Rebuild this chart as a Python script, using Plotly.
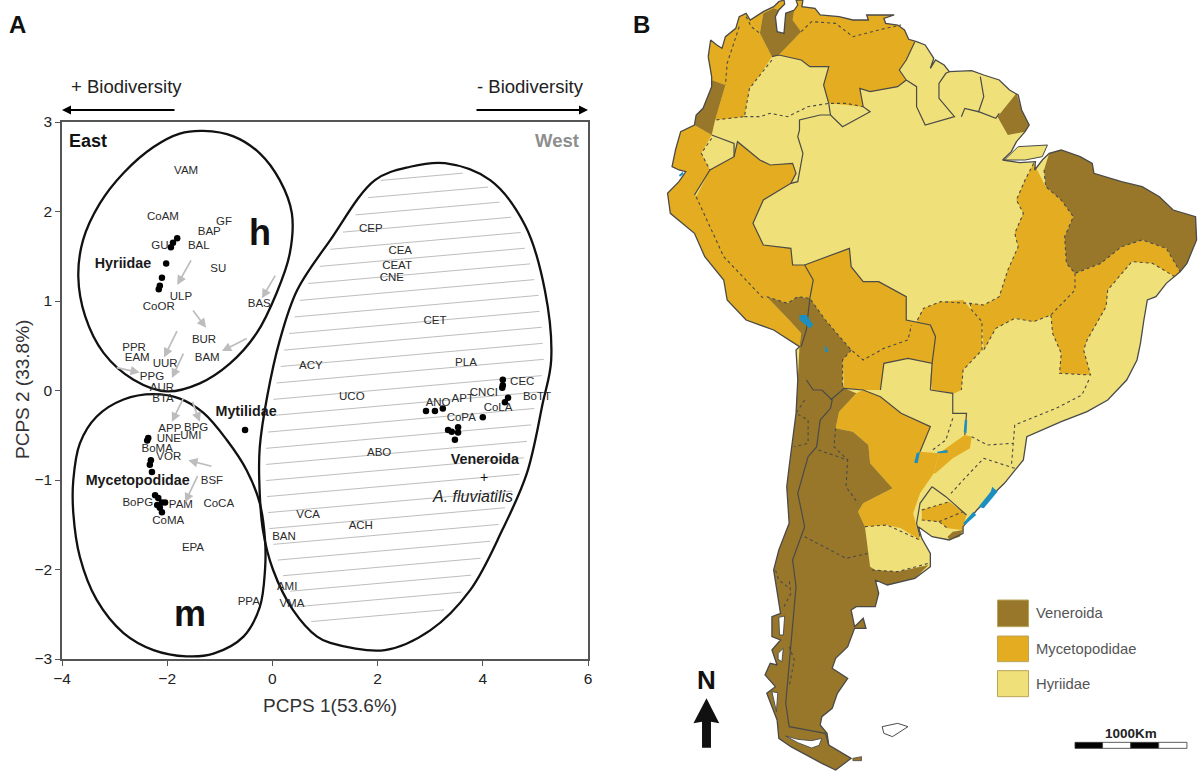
import plotly.graph_objects as go

# ---------- Panel A data (PCPS 1, PCPS 2) ----------
hyr_x = [-1.81,-1.89,-1.93,-2.02,-2.10,-2.14,-2.16]
hyr_y = [1.70,1.65,1.60,1.42,1.26,1.17,1.13]
myc_x = [-2.36,-2.38,-2.31,-2.33,-2.29,-2.23,-2.17,-2.10,-2.04,-2.19,-2.14,-2.10]
myc_y = [-0.53,-0.56,-0.78,-0.83,-0.91,-1.17,-1.20,-1.25,-1.25,-1.28,-1.31,-1.36]
myt_x = [-0.52]
myt_y = [-0.44]
ven_x = [4.38,4.38,4.37,4.48,4.42,4.00,2.92,3.09,3.24,3.34,3.41,3.53,3.53,3.47]
ven_y = [0.12,0.06,0.03,-0.08,-0.13,-0.30,-0.23,-0.23,-0.20,-0.44,-0.46,-0.41,-0.47,-0.55]

lab_names = ["VAM","CoAM","GF","BAP","GU","BAL","SU","ULP","CoOR","BAS","BUR","PPR","EAM","BAM","UUR","PPG","AUR","BTA",
             "APP","BPG","UNE","UMI","BoMA","VOR","BSF","BoPG","PAM","CoCA","CoMA","EPA","PPA",
             "VCA","BAN","AMI","VMA","ACY","CEP","CEA","CEAT","CNE","CET","PLA","UCO","CEC","BoTT","CNCI","APT","ANO","CoLA","CoPA","ABO","ACH"]
lab_x = [-1.64,-2.08,-0.92,-1.20,-2.14,-1.40,-1.03,-1.74,-2.16,-0.25,-1.30,-2.63,-2.57,-1.24,-2.04,-2.29,-2.10,-2.08,
         -1.95,-1.45,-1.97,-1.55,-2.19,-1.97,-1.15,-2.56,-1.74,-1.02,-1.98,-1.51,-0.45,
         0.68,0.22,0.28,0.37,0.73,1.87,2.43,2.37,2.27,3.09,3.68,1.51,4.75,5.03,4.02,3.62,3.15,4.29,3.59,2.03,1.68]
lab_y = [2.45,1.94,1.88,1.77,1.61,1.61,1.36,1.04,0.93,0.96,0.56,0.47,0.36,0.36,0.30,0.15,0.03,-0.10,
         -0.43,-0.42,-0.54,-0.51,-0.65,-0.74,-1.01,-1.26,-1.28,-1.27,-1.46,-1.76,-2.36,
         -1.39,-1.64,-2.20,-2.39,0.27,1.80,1.56,1.39,1.26,0.78,0.31,-0.07,0.09,-0.07,-0.03,-0.10,-0.14,-0.20,-0.31,-0.70,-1.51]

bold_names = ["Hyriidae","Mytilidae","Mycetopodidae","Veneroida"]
bold_x = [-2.84,-0.50,-2.56,4.04]
bold_y = [1.41,-0.24,-1.02,-0.78]

h_x = [-1.31,-0.74,-0.24,0.14,0.37,0.33,0.08,-0.30,-0.81,-1.38,-2.01,-2.64,-3.21,-3.56,-3.69,-3.60,-3.28,-2.83,-2.26,-1.76,-1.31]
h_y = [2.90,2.84,2.65,2.35,1.98,1.53,1.09,0.64,0.30,0.08,-0.01,0.12,0.42,0.83,1.27,1.68,2.09,2.43,2.72,2.87,2.90]
m_x = [-2.26,-1.76,-1.31,-0.87,-0.49,-0.24,-0.14,-0.14,-0.24,-0.55,-1.12,-1.63,-2.26,-2.83,-3.34,-3.66,-3.785,-3.785,-3.66,-3.34,-2.83,-2.26]
m_y = [-0.04,-0.09,-0.25,-0.55,-0.89,-1.26,-1.67,-2.00,-2.42,-2.75,-2.94,-2.97,-2.90,-2.71,-2.34,-1.86,-1.37,-1.00,-0.59,-0.29,-0.10,-0.04]
v_x = [3.28,4.14,4.80,5.18,5.30,5.14,4.84,4.37,3.76,3.00,2.14,1.10,0.85,0.39,0.01,-0.18,-0.25,-0.24,-0.10,0.14,0.47,1.10,1.95,2.62,3.28]
v_y = [2.54,2.35,1.85,1.12,0.34,-0.14,-0.92,-1.56,-2.23,-2.68,-2.90,-2.82,-2.75,-2.45,-2.00,-1.56,-1.00,-0.63,-0.07,0.56,1.12,1.68,2.35,2.50,2.54]

hatch_levels = [2.42,2.24,2.06,1.88,1.70,1.52,1.34,1.16,0.98,0.80,0.62,0.44,0.26,0.08,-0.10,-0.28,-0.46,-0.64,-0.82,-1.00,
                -1.18,-1.36,-1.54,-1.72,-1.90,-2.08,-2.26,-2.44,-2.62]
hatch_slope = 0.052

arrow_x0 = [-1.53,0.07,-1.53,-0.46,-1.80,-1.68,-2.99,-1.68,-1.53,-1.13,-1.41]
arrow_y0 = [1.47,1.30,0.91,0.59,0.68,0.43,0.26,-0.07,-0.11,-0.85,-0.94]
arrow_x1 = [-1.81,-0.20,-1.26,-0.96,-2.06,-1.91,-2.52,-1.91,-1.38,-1.60,-1.66]
arrow_y1 = [1.18,1.03,0.70,0.44,0.37,0.14,0.20,-0.35,-0.35,-0.78,-1.25]

# ---------- Panel B data (map units; lower part of the outline is listed in its own block) ----------
coast_north = [(140,170),(147,120),(165,135),(180,145),(190,110),(220,85),(230,50),(250,40),(262,60),(300,35),(330,20),(345,5),(360,0),
    (362,12),(345,30),(335,50),(340,95),(360,100),(365,40),(390,30),(400,15),(395,0),(415,0),(412,20),(450,25),(465,45),(520,50),(560,60),
    (605,60),(600,45),(680,45),(650,55),(655,70),(690,75),(710,90),(722,118),(745,125),(770,135),(795,175),(785,205),(800,180),(825,195),
    (840,215),(905,212),(940,225),(985,240),(1015,270),(1040,285),(1050,330),(1072,375),(1060,395),(1035,425),(1020,455),(995,480),
    (1045,488),(1090,485),(1088,510),(1110,480),(1130,460),(1165,450),(1220,470),(1255,490),(1260,520),(1340,545),(1400,560),(1450,590),
    (1490,630),(1555,650),(1558,720),(1530,790),(1510,815),(1470,850),(1440,890),(1415,900),(1405,960),(1395,1030),(1385,1080)]
coast_south = [(1355,0),(1300,60),(1240,95),(1165,125),(1065,170),(1055,240),(1000,310),(920,390),(880,440),(880,460),(840,480),(790,470),
    (750,440),(760,475),(785,520),(785,560),(740,595),(660,615),(625,600),(635,640),(625,680),(570,680),(555,690),(565,740),(590,715),(598,745),
    (565,745),(545,800),(510,835),(500,865),(545,895),(515,940),(500,985),(470,1010),(465,1035),(485,1060),(490,1095),(555,1135),(510,1170),
    (470,1150),(380,1100),(345,1075),(340,1020),(310,940),(335,920),(305,885),(320,850),(340,855),(325,810),(350,780),(325,770),(325,710),
    (350,700),(330,570),(345,510),(375,430),(368,320),(375,260),(395,100),(400,0)]
coast_west = [(395,1050),(405,1040),(330,990),(250,960),(195,900),(185,840),(130,770),(100,700),(30,640),(22,580),(55,545),(75,515),(55,510),
    (35,500),(45,450),(60,395),(100,375),(105,345),(125,325),(150,260),(150,230),(140,170)]
marajo = [(1000,480),(1040,440),(1125,435),(1110,470),(1060,480),(1000,480)]

myc_colombia = [(140,170),(147,120),(165,135),(180,145),(190,110),(220,85),(230,50),(250,40),(262,60),(290,100),(325,170),(290,225),(260,265),(245,350),(160,360),(190,255),(150,240)]
myc_guajira = [(262,60),(300,35),(330,20),(345,5),(360,0),(362,12),(345,30),(330,25),(300,40),(290,100)]
ven_colombia = [(150,240),(190,255),(160,360),(150,405),(100,375),(105,345),(125,325),(150,260)]
myc_venezuela = [(345,165),(410,180),(435,200),(490,200),(475,255),(490,310),(590,320),(580,265),(610,275),(690,260),(715,240),(695,210),(715,180),(740,125),
    (722,118),(710,90),(690,75),(655,70),(650,55),(680,45),(600,45),(605,60),(560,60),(520,50),(465,45),(450,25),(412,20),(415,0),(395,0),(400,15),(390,30),(385,60),(410,95)]
ven_maracaibo = [(330,25),(345,30),(335,50),(340,95),(360,100),(365,40),(390,30),(385,60),(410,95),(345,165),(325,170),(290,100),(300,40)]
myc_ecuador = [(60,395),(100,375),(150,405),(120,460),(145,510),(100,585),(75,515),(55,510),(35,500),(45,450)]
myc_peru = [(105,590),(145,510),(215,470),(225,425),(290,480),(320,495),(385,490),(395,520),(380,550),(300,600),(270,670),(300,735),(380,745),(385,795),(420,795),
    (445,840),(435,895),(400,890),(370,910),(340,900),(310,890),(375,960),(410,1000),(405,1040),(330,990),(250,960),(195,900),(185,840),(130,770),(100,700),(30,640),(22,580),(55,545),(75,515)]
myc_bolivia = [(420,795),(550,745),(555,800),(590,845),(635,845),(715,890),(715,960),(785,975),(800,1010),(790,1090),(720,1075),(650,1090),(640,1170),(590,1170),(535,1165),
    (530,1080),(555,1050),(480,960),(435,895),(445,840)]
myc_brazil = [(1085,490),(1120,560),(1165,600),(1200,650),(1175,710),(1180,790),(1205,820),(1205,870),(1135,945),(1085,965),(1030,955),(975,985),(940,1050),
    (935,965),(905,930),(900,910),(940,915),(985,890),(1010,810),(1040,740),(1030,700),(1055,640),(1035,600),(1060,540)]
myc_pantanal = [(745,965),(765,925),(815,905),(880,900),(905,930),(935,965),(935,1050),(880,1110),(875,1170),(855,1180),(790,1170),(785,1140),(790,1090),(800,1010),(785,975)]
myc_nordeste = [(1205,820),(1280,790),(1340,740),(1400,720),(1470,745),(1510,815),(1495,830),(1430,790),(1370,785),(1300,870),(1295,920),(1240,1020),(1230,1050),(1250,1125),
    (1160,1120),(1165,1060),(1140,1000),(1135,945),(1205,870)]
ven_nordeste = [(1130,460),(1165,450),(1220,470),(1255,490),(1260,520),(1340,545),(1400,560),(1450,590),(1490,630),(1555,650),(1558,720),(1530,790),(1510,815),(1470,745),
    (1400,720),(1340,740),(1280,790),(1205,820),(1180,790),(1175,710),(1200,650),(1165,600),(1120,560),(1115,510)]
ven_amapa = [(1035,280),(1050,330),(1072,375),(1060,395),(1010,405),(980,350)]
ven_andes_top = [(405,1040),(410,1000),(375,960),(310,890),(340,900),(370,910),(400,890),(435,895),(480,960),(555,1050),(530,1080)]
ven_andes_low = [(530,10),(535,25),(570,40),(520,95),(510,145),(560,155),(605,195),(610,250),(675,325),(590,370),(575,395),(595,440),(610,560),(625,570),(690,575),(780,555),
    (740,595),(660,615),(625,600),(635,640),(625,680),(570,680),(555,690),(565,740),(590,715),(598,745),(565,745),(545,800),(510,835),(500,865),(545,895),(515,940),(500,985),(470,1010),
    (465,1035),(485,1060),(490,1095),(555,1135),(510,1170),(470,1150),(380,1100),(345,1075),(340,1020),(310,940),(335,920),(305,885),(320,850),(340,855),(325,810),(350,780),(325,770),
    (325,710),(350,700),(330,570),(345,510),(375,430),(368,320),(375,260),(395,100),(400,0)]
myc_chaco = [(590,30),(640,50),(700,100),(785,140),(755,215),(810,220),(795,280),(755,340),(735,400),(755,480),(700,445),(660,435),(595,440),(575,395),(590,370),(675,325),(610,250),
    (605,195),(560,155),(510,145),(520,95),(570,40)]
myc_parana = [(810,220),(885,165),(905,170),(900,205),(850,235),(800,280),(795,280)]
myc_uruguay = [(760,390),(840,365),(890,405),(880,440),(880,450),(835,445),(810,425),(760,420)]
ven_plata = [(835,470),(850,455),(880,450),(870,470),(840,480)]

solid_top = [
    [(325,170),(345,165),(410,180),(435,200),(490,200),(475,255),(490,310),(495,345),(530,380),(610,335),(590,320),(580,265),(610,275),(690,260),(715,240),(695,210),(715,180),(740,125)],
    [(715,240),(745,260),(745,320),(770,375),(855,350),(810,295),(810,250),(830,220),(840,215)],
    [(875,350),(885,325),(925,335),(940,290),(930,230)],
    [(925,335),(975,355),(985,340)],
    [(495,345),(465,345),(405,360),(405,390),(400,410),(415,460),(400,545),(380,550),(300,600),(270,670),(300,735),(380,745),(385,795),(420,795),(445,840),(435,895),(425,990),(410,1040)],
    [(420,795),(550,745),(555,800),(590,845),(635,845),(715,890),(715,960),(785,975),(800,1010),(790,1090),(720,1075),(650,1090),(640,1170)],
    [(150,405),(215,430),(215,470),(145,510),(100,585)],
    [(215,470),(225,425),(290,480),(320,495),(385,490),(395,520),(380,550)],
    [(790,1090),(785,1170)],
]
solid_low = [
    [(425,0),(445,30),(470,30),(500,60),(495,85),(465,120),(455,200),(430,230),(400,340),(420,440),(385,540),(395,620),(365,970),(375,1040),(480,1060),(490,1095)],
    [(495,60),(535,25),(590,30),(640,50),(700,100),(785,140),(755,215)],
    [(785,30),(850,40),(850,100),(890,100),(885,165)],
    [(790,320),(830,350),(890,405)],
    [(790,320),(755,370),(745,430),(755,470)],
]
dash_top = [
    [(410,95),(440,65),(510,70),(560,110),(655,85),(700,75)],
    [(230,80),(195,190),(190,255)],
    [(250,50),(265,80),(290,100)],
    [(325,180),(260,265),(245,350),(160,360)],
    [(245,350),(290,350),(320,340),(370,350),(430,320),(490,310),(540,310),(590,320)],
    [(150,415),(120,460),(145,510)],
    [(105,590),(185,770),(300,895)],
    [(310,890),(340,900),(370,910),(400,890),(435,895),(480,960),(555,1050),(590,1080),(650,1045),(720,1020),(730,975)],
    [(555,1050),(530,1080),(530,1170)],
    [(1085,490),(1060,540),(1035,600),(1055,640),(1030,700),(1040,740),(1010,810),(985,890),(940,915),(900,910),(815,905),(765,925),(745,965)],
    [(900,910),(905,930),(935,965),(935,1050),(880,1110),(875,1170)],
    [(1115,510),(1120,560),(1165,600),(1200,650),(1175,710),(1180,790),(1205,820),(1280,790),(1340,740),(1400,720),(1470,745),(1510,815)],
    [(1205,820),(1205,870),(1135,945),(1085,965),(1030,955),(975,985),(940,1050)],
    [(1135,945),(1140,1000),(1165,1060),(1160,1120),(1250,1125),(1230,1050),(1240,1020),(1295,920),(1300,870),(1370,785),(1430,790),(1495,830)],
]
dash_low = [
    [(1245,0),(1225,45),(1150,85),(1030,135),(1025,200),(1020,260)],
    [(905,170),(950,195),(1025,190)],
    [(1030,265),(940,235),(880,300),(845,340)],
    [(850,115),(830,180),(785,215)],
    [(420,60),(395,100),(430,120),(430,190),(390,200)],
    [(460,210),(545,240),(540,320),(575,370)],
    [(510,145),(505,200),(545,240)],
    [(420,470),(540,535),(605,520)],
    [(615,570),(690,575),(780,550)],
    [(595,440),(660,435),(755,480)],
    [(760,390),(840,365)],
    [(760,420),(810,425),(835,445)],
    [(810,425),(880,395)],
    [(370,620),(345,600),(335,570)],
    [(360,680),(380,640),(375,600)],
    [(375,800),(390,840),(375,920)],
]
water_top = [[(405,945),(425,945),(445,975),(435,985),(405,960)],[(480,1035),(490,1055),(478,1055)],[(55,525),(66,515),(68,522),(58,530)]]
water_low = [[(885,120),(892,120),(890,160),(882,155)],[(745,220),(755,215),(748,250),(738,248)],[(805,215),(835,210),(835,218),(805,220)],
    [(925,380),(960,335),(965,320),(980,335),(940,385)],[(880,430),(910,395),(918,405),(885,435)]]
fjords = [[(345,712),(362,708),(358,765),(347,765)],[(343,820),(358,805),(354,845),(343,838)],[(325,935),(342,938),(338,995),(332,970)],
    [(365,1068),(400,1078),(440,1082),(470,1075),(462,1096),(440,1104),(400,1088)]]
falklands = [(645,1040),(690,1030),(720,1040),(675,1070),(650,1060),(645,1040)]
small_island = [(560,1135),(585,1130),(585,1142),(560,1142)]
north_arrow = [(135,955),(172,1030),(148,1025),(148,1103),(122,1103),(122,1025),(97,1030)]

legend_names = ["Veneroida","Mycetopodidae","Hyriidae"]
legend_top = [660,768,872]
legend_bottom = [740,845,950]

C_HYR = "#EFE079"
C_MYC = "#E4AC20"
C_VEN = "#98772B"
C_LINE = "#4A4A48"
C_WATER = "#1C8FC0"

LOW = 1140  # low block starts here in map units


def low(pts):
    return [(x, y + LOW) for x, y in pts]


fig = go.Figure()


def area(pts, color, line_color=None, width=0.0):
    pts = list(pts) + [pts[0]]
    fig.add_trace(go.Scatter(x=[p[0] for p in pts], y=[p[1] for p in pts], xaxis="x2", yaxis="y2", mode="lines",
                             fill="toself", fillcolor=color, hoverinfo="skip", showlegend=False,
                             line=dict(color=line_color or color, width=width)))


def path(pts, dash="solid", width=1.2, color=C_LINE):
    fig.add_trace(go.Scatter(x=[p[0] for p in pts], y=[p[1] for p in pts], xaxis="x2", yaxis="y2", mode="lines",
                             hoverinfo="skip", showlegend=False, line=dict(color=color, width=width, dash=dash)))


# ---- map fills
coast = coast_north + low(coast_south) + coast_west
area(coast, C_HYR)
area(marajo, C_HYR, C_LINE, 1.0)
for poly in [myc_colombia, myc_guajira, myc_venezuela, myc_ecuador, myc_peru, myc_bolivia, myc_brazil, myc_pantanal, myc_nordeste]:
    area(poly, C_MYC)
for poly in [myc_chaco, myc_parana, myc_uruguay]:
    area(low(poly), C_MYC)
for poly in [ven_colombia, ven_maracaibo, ven_nordeste, ven_amapa]:
    area(poly, C_VEN)
area(ven_andes_top + low(ven_andes_low), C_VEN)
area(low(ven_plata), C_VEN)
for poly in dash_top:
    path(poly, dash="3px,3px", width=1.1)
for poly in dash_low:
    path(low(poly), dash="3px,3px", width=1.1)
for poly in solid_top:
    path(poly, width=1.2)
for poly in solid_low:
    path(low(poly), width=1.2)
path(coast + [coast[0]], width=1.3)
for poly in fjords:
    area(low(poly), "#FFFFFF", C_LINE, 0.9)
area(low(falklands), "#FFFFFF", C_LINE, 1.0)
area(low(small_island), C_VEN, C_LINE, 0.8)
for poly in water_top:
    area(poly, C_WATER)
for poly in water_low:
    area(low(poly), C_WATER)
area(low(north_arrow), "#111111")

# ---- hatch clipped to the right-hand ellipse


def inside(px, py):
    hit = False
    n = len(v_x)
    for i in range(n - 1):
        if (v_y[i] > py) != (v_y[i + 1] > py):
            xc = v_x[i] + (py - v_y[i]) * (v_x[i + 1] - v_x[i]) / (v_y[i + 1] - v_y[i])
            if px < xc:
                hit = not hit
    return hit


for c in hatch_levels:
    xs = [-0.5 + k * 0.02 for k in range(300)]
    run = [x for x in xs if inside(x, c + hatch_slope * x) and inside(x - 0.12, c + hatch_slope * (x - 0.12)) and inside(x + 0.12, c + hatch_slope * (x + 0.12))]
    if run:
        fig.add_trace(go.Scatter(x=[run[0], run[-1]], y=[c + hatch_slope * run[0], c + hatch_slope * run[-1]], mode="lines",
                                 line=dict(color="#B5B5B5", width=0.9), hoverinfo="skip", showlegend=False))

for ex, ey in [(h_x, h_y), (m_x, m_y), (v_x, v_y)]:
    fig.add_trace(go.Scatter(x=ex, y=ey, mode="lines", line=dict(color="#111111", width=2.3, shape="spline", smoothing=1.0),
                             hoverinfo="skip", showlegend=False))

for nm, sx, sy in [("Hyriidae", hyr_x, hyr_y), ("Mycetopodidae", myc_x, myc_y), ("Mytilidae", myt_x, myt_y), ("Veneroida", ven_x, ven_y)]:
    fig.add_trace(go.Scatter(x=sx, y=sy, mode="markers", name=nm, showlegend=False, marker=dict(color="#000000", size=6.5)))

fig.add_trace(go.Scatter(x=lab_x, y=lab_y, text=lab_names, mode="text", showlegend=False, hoverinfo="skip",
                         textfont=dict(family="Liberation Sans", size=11.5, color="#2A2A2A")))
fig.add_trace(go.Scatter(x=bold_x, y=bold_y, text=["<b>%s</b>" % b for b in bold_names], mode="text", showlegend=False, hoverinfo="skip",
                         textfont=dict(family="Liberation Sans", size=14.3, color="#1A1A1A")))

ann = []
for x0, y0, x1, y1 in zip(arrow_x0, arrow_y0, arrow_x1, arrow_y1):
    ann.append(dict(x=x1, y=y1, ax=x0, ay=y0, xref="x", yref="y", axref="x", ayref="y", text="", showarrow=True,
                    arrowhead=2, arrowwidth=1.7, arrowcolor="#BDBDBD", arrowsize=1.1))


def txt(x, y, s, size, color="#111111", xref="paper", yref="paper", xanchor="center", **kw):
    ann.append(dict(x=x, y=y, xref=xref, yref=yref, text=s, showarrow=False, xanchor=xanchor, yanchor="middle",
                    font=dict(family="Liberation Sans", size=size, color=color), **kw))


W, H = 1199, 772
txt(17 / W, 1 - 24 / H, "<b>A</b>", 24)
txt(641 / W, 1 - 24 / H, "<b>B</b>", 24)
txt(127 / W, 1 - 87 / H, "+ Biodiversity", 18.5, "#222222")
txt(530 / W, 1 - 87 / H, "- Biodiversity", 18.5, "#222222")
txt(330 / W, 1 - 705 / H, "PCPS 1(53.6%)", 19, "#333333")
txt(22 / W, 1 - 390 / H, "PCPS 2 (33.8%)", 19, "#333333", textangle=-90)
txt(-3.5, 2.79, "<b>East</b>", 18, "#111111", "x", "y")
txt(5.41, 2.79, "<b>West</b>", 18.5, "#8E8E8E", "x", "y")
txt(-0.24, 1.76, "<b>h</b>", 36, "#111111", "x", "y")
txt(-1.57, -2.49, "<b>m</b>", 36, "#111111", "x", "y")
txt(4.02, -0.97, "+", 14, "#111111", "x", "y")
txt(3.80, -1.18, "<i>A. fluviatilis</i>", 16, "#222222", "x", "y")

for nm, t, b in zip(legend_names, legend_top, legend_bottom):
    txt(1085, (t + b) / 2 + LOW, nm, 14.8, "#555555", "x2", "y2", xanchor="left")
txt(1368, 1060 + LOW, "<b>1000Km</b>", 13.5, "#222222", "x2", "y2")
txt(135, 900 + LOW, "<b>N</b>", 26, "#111111", "x2", "y2")

# direction arrows above the plot
ann.append(dict(x=62 / W, y=1 - 110 / H, ax=114, ay=0, xref="paper", yref="paper", text="", showarrow=True,
                arrowhead=2, arrowwidth=1.8, arrowcolor="#000000"))
ann.append(dict(x=588 / W, y=1 - 110 / H, ax=-113, ay=0, xref="paper", yref="paper", text="", showarrow=True,
                arrowhead=2, arrowwidth=1.8, arrowcolor="#000000"))

shapes = []
legend_colors = [C_VEN, C_MYC, C_HYR]
for col, t, b in zip(legend_colors, legend_top, legend_bottom):
    shapes.append(dict(type="rect", xref="x2", yref="y2", x0=980, x1=1070, y0=t + LOW, y1=b + LOW, fillcolor=col,
                       line=dict(color="#B9A45A", width=1)))
seg = [(1205, 1285, "#000000"), (1285, 1367, "#FFFFFF"), (1367, 1448, "#000000"), (1448, 1530, "#FFFFFF")]
for x0, x1, c in seg:
    shapes.append(dict(type="rect", xref="x2", yref="y2", x0=x0, x1=x1, y0=1087 + LOW, y1=1105 + LOW, fillcolor=c,
                       line=dict(color="#333333", width=0.8)))

tickfont = dict(family="Liberation Sans", size=15.5, color="#222222")
fig.update_layout(
    width=W, height=H, margin=dict(l=0, r=0, t=0, b=0), paper_bgcolor="white", plot_bgcolor="white", showlegend=False,
    annotations=ann, shapes=shapes,
    xaxis=dict(domain=[62 / W, 588 / W], range=[-4, 6], tickvals=[-4, -2, 0, 2, 4, 6], showgrid=False, zeroline=False, automargin=False,
               showline=True, mirror=True, linecolor="#555555", linewidth=1.5, ticks="outside", ticklen=5, tickcolor="#555555", tickfont=tickfont),
    yaxis=dict(domain=[1 - 659 / H, 1 - 122 / H], range=[-3, 3], tickvals=[-3, -2, -1, 0, 1, 2, 3], showgrid=False, zeroline=False, automargin=False,
               showline=True, mirror=True, linecolor="#555555", linewidth=1.5, ticks="outside", ticklen=5, tickcolor="#555555", tickfont=tickfont),
    xaxis2=dict(domain=[660 / W, 1], range=[0, 1565], visible=False, anchor="y2", automargin=False),
    yaxis2=dict(domain=[0, 1], range=[2316, 0], visible=False, anchor="x2", automargin=False),
)
fig.write_html("out.html", post_script="document.body.style.margin='0';", config={"displayModeBar": False})
